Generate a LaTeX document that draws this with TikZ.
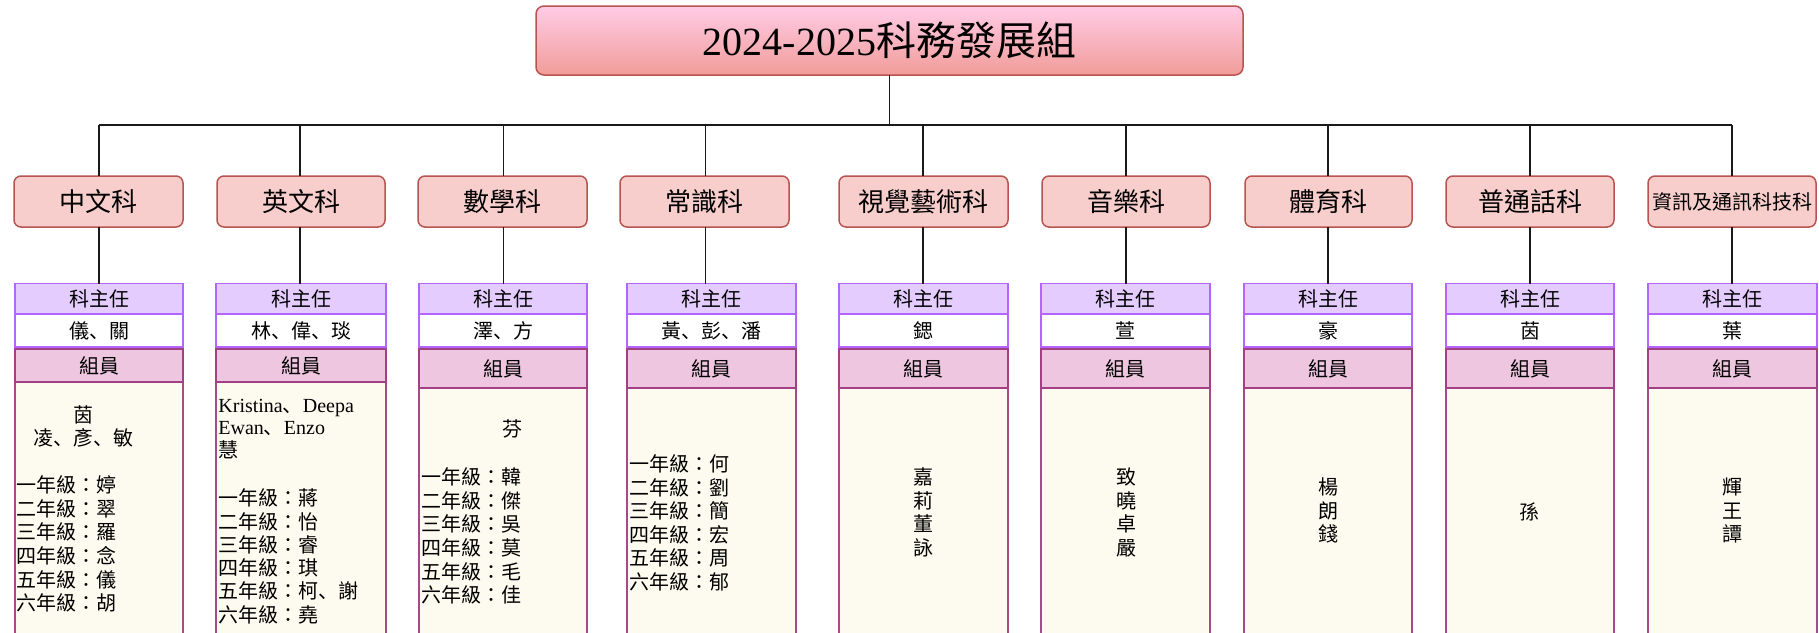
\documentclass[tikz,border=0pt]{standalone}
\usepackage{fontspec}
\setmainfont{Liberation Serif}
\newfontfamily\cjk{Noto Sans CJK TC}
\newfontfamily\cjkjp{Noto Sans CJK JP}
\newcommand\dun{{\cjkjp 、}}
\definecolor{subjF}{HTML}{F8CECC}
\definecolor{subjB}{HTML}{B85450}
\definecolor{titT}{HTML}{FFCCE6}
\definecolor{titB}{HTML}{F19C99}
\definecolor{kztF}{HTML}{E5CCFF}
\definecolor{kztB}{HTML}{B266FF}
\definecolor{zyF}{HTML}{EEC6E0}
\definecolor{zyB}{HTML}{A33F85}
\definecolor{bodyF}{HTML}{FDFBEF}
\definecolor{bodyB}{HTML}{A64A8C}
\definecolor{lineC}{HTML}{1A1A1A}
\tikzset{
  box/.style={inner sep=0pt, outer sep=0pt, line width=0.75pt},
  titlebox/.style={box, draw=subjB, top color=titT, bottom color=titB, rounded corners=4pt,
    font=\cjk\fontsize{20}{24}\selectfont},
  subj/.style={box, draw=subjB, fill=subjF, rounded corners=3.5pt, font=\cjk\fontsize{13}{15}\selectfont},
  kzt/.style={box, draw=kztB, fill=kztF, font=\cjk\fontsize{10}{12}\selectfont},
  nm/.style={box, draw=kztB, fill=white, font=\cjk\fontsize{10}{12}\selectfont},
  zy/.style={box, draw=zyB, fill=zyF, font=\cjk\fontsize{10}{12}\selectfont},
  bodybox/.style={box, draw=bodyB, fill=bodyF},
  bt/.style={inner sep=0pt, anchor=west, text height=8.4pt, text depth=0.7pt, font=\cjk\fontsize{10}{12}\selectfont},
  btc/.style={bt, anchor=center},
  conn/.style={draw=lineC, line width=0.8pt},
}
\newcommand\col[9]{%
  \coordinate (x#1) at (#5,125);
  \node[subj, minimum width={(#3-#2)*0.5pt}, minimum height=25.5pt] (s#1) at ({(#2+#3)/2},201.5) {#4};
  \node[bodybox, minimum width={(#7-#6)*0.5pt}, minimum height={(660-#9)*0.5pt}, anchor=north west] (b#1) at (#6,#9) {};
  \node[zy, minimum width={(#7-#6)*0.5pt}, minimum height={(#9-349)*0.5pt}, anchor=north west] (z#1) at (#6,349) {組員};
  \node[nm, minimum width={(#7-#6)*0.5pt}, minimum height=16.5pt, anchor=north west] (n#1) at (#6,314) {#8};
  \node[kzt, minimum width={(#7-#6)*0.5pt}, minimum height=15.25pt, anchor=north west] (k#1) at (#6,283.5) {科主任};
  \draw[conn] (x#1) -- (s#1.north -| x#1);
  \draw[conn] (s#1.south -| x#1) -- (k#1.north -| x#1);
}
\begin{document}
\begin{tikzpicture}[x=0.5pt, y=-0.5pt]
\useasboundingbox (0,0) rectangle (1819,632);
\clip (0,0) rectangle (1819,632);
\fill[white] (0,0) rectangle (1819,632);
\node[titlebox, minimum width=353.5pt, minimum height=34.5pt] (title) at (889.5,40.5)
  {{\rmfamily 2024-2025}科務發展組};
\col{1}{14}{183}{中文科}{99}{15}{183}{儀\dun 關}{382}
\col{2}{217}{385}{英文科}{300}{216}{386}{林\dun 偉\dun 琰}{382}
\col{3}{418}{587}{數學科}{503.5}{419}{587}{澤\dun 方}{388}
\col{4}{620}{789}{常識科}{705.5}{627}{796}{黃\dun 彭\dun 潘}{388}
\col{5}{839}{1008}{視覺藝術科}{923}{839}{1008}{鍶}{388}
\col{6}{1042}{1210}{音樂科}{1126}{1041}{1210}{萱}{388}
\col{7}{1245}{1412}{體育科}{1328}{1244}{1412}{豪}{388}
\col{8}{1446}{1614}{普通話科}{1530}{1446}{1614}{茵}{388}
\col{9}{1648}{1816}{{\fontsize{10}{12}\selectfont 資訊及通訊科技科}}{1732}{1648}{1817}{葉}{388}
\draw[conn] (x1) -- (x9);
\draw[conn] (title.south) -- (title.south |- x1);
% 中文
\node[btc] (t1a) at (83,415) {茵};
\node[btc] (t1b) at (83,438) {凌\dun 彥\dun 敏};
\foreach \t [count=\i from 0] in {一年級：婷,二年級：翠,三年級：羅,四年級：念,五年級：儀,六年級：胡}
  \node[bt] (t1g\i) at (16,{485+23.6*\i}) {\t};
% 英文
\node[bt] (t2a) at (218,405) {{\rmfamily Kristina}\dun{\rmfamily Deepa}};
\node[bt] (t2b) at (218,427) {{\rmfamily Ewan}\dun{\rmfamily Enzo}};
\node[bt] (t2c) at (218,450) {慧};
\foreach \t [count=\i from 0] in {一年級：蔣,二年級：怡,三年級：睿,四年級：琪,五年級：柯\dun 謝,六年級：堯}
  \node[bt] (t2g\i) at (218,{498+23.3*\i}) {\t};
% 數學
\node[btc] (t3a) at (512,429) {芬};
\foreach \t [count=\i from 0] in {一年級：韓,二年級：傑,三年級：吳,四年級：莫,五年級：毛,六年級：佳}
  \node[bt] (t3g\i) at (421,{477+23.6*\i}) {\t};
% 常識
\foreach \t [count=\i from 0] in {一年級：何,二年級：劉,三年級：簡,四年級：宏,五年級：周,六年級：郁}
  \node[bt] (t4g\i) at (629,{464+23.5*\i}) {\t};
% 視覺
\foreach \t [count=\i from 0] in {嘉,莉,董,詠}
  \node[btc] (t5g\i) at (923,{477+23.5*\i}) {\t};
% 音樂
\foreach \t [count=\i from 0] in {致,曉,卓,嚴}
  \node[btc] (t6g\i) at (1126,{477+23.5*\i}) {\t};
% 體育
\foreach \t [count=\i from 0] in {楊,朗,錢}
  \node[btc] (t7g\i) at (1328,{487+23.5*\i}) {\t};
% 普通話
\node[btc] (t8a) at (1529,512) {孫};
% 資訊
\foreach \t [count=\i from 0] in {輝,王,譚}
  \node[btc] (t9g\i) at (1732,{487+23.5*\i}) {\t};
\end{tikzpicture}
\end{document}
